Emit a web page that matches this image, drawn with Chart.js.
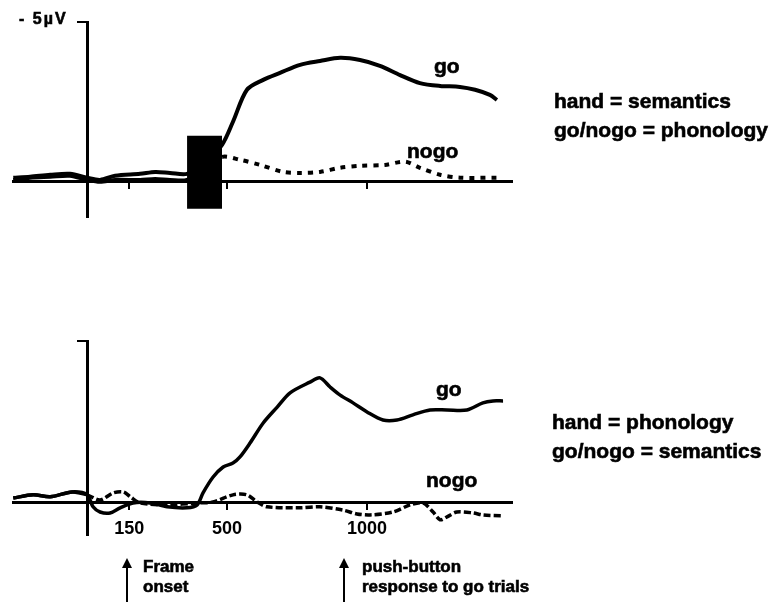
<!DOCTYPE html>
<html>
<head>
<meta charset="utf-8">
<script src="https://cdn.jsdelivr.net/npm/chart.js@4/dist/chart.umd.min.js"></script>
<style>
  body { margin: 0; background: #fff; width: 772px; height: 602px; position: relative; overflow: hidden;
         font-family: "Liberation Sans", Arial, sans-serif; font-weight: bold; color: #000; }
  canvas { position: absolute; left: 0; }
  .lbl { position: absolute; white-space: nowrap; -webkit-text-stroke: 0.6px #000; }
  .arrow { position: absolute; width: 2px; background: #000; }
  .arrow:before { content: ""; position: absolute; left: -4px; top: -8px;
                  border-left: 5px solid transparent; border-right: 5px solid transparent; border-bottom: 10px solid #000; }
</style>
</head>
<body>
<canvas id="topChart" width="772" height="300" style="top:0"></canvas>
<canvas id="bottomChart" width="772" height="302" style="top:300px"></canvas>

<div class="lbl" style="left:19px;top:10px;font-size:16px;letter-spacing:2px">- 5µV</div>
<div class="lbl" style="left:434px;top:54px;font-size:21px">go</div>
<div class="lbl" style="left:407px;top:139px;font-size:21px">nogo</div>
<div class="lbl" style="left:554px;top:86px;font-size:21px;line-height:29px">hand = semantics<br>go/nogo = phonology</div>

<div class="lbl" style="left:436px;top:377px;font-size:21px">go</div>
<div class="lbl" style="left:426px;top:468px;font-size:21px">nogo</div>
<div class="lbl" style="left:552px;top:407px;font-size:21px;line-height:29px">hand = phonology<br>go/nogo = semantics</div>

<div class="arrow" style="left:126px;top:566px;height:36px"></div>
<div class="lbl" style="left:143px;top:557px;font-size:17px;line-height:20px">Frame<br>onset</div>
<div class="arrow" style="left:343px;top:566px;height:36px"></div>
<div class="lbl" style="left:362px;top:557px;font-size:17px;line-height:20px">push-button<br>response to go trials</div>

<script>
"use strict";

// tid i ms, amplitud i µV (negativt uppåt)

// övre panelen: hand = semantik
const topGoTime = [-264, -204, -132, -61, 0, 46, 100, 189, 243, 296, 357, 420, 482, 521, 571, 629, 689, 761, 832, 904, 975, 1046, 1118, 1189, 1261, 1332, 1386, 1439, 1464];
const topGoVolt = [-0.13, -0.16, -0.22, -0.25, -0.13, -0.06, -0.19, -0.25, -0.31, -0.28, -0.25, -0.6, -1.16, -1.88, -2.88, -3.19, -3.41, -3.66, -3.78, -3.88, -3.81, -3.63, -3.34, -3.09, -3.0, -2.97, -2.88, -2.72, -2.56];

const topNogoTime = [-264, -204, -132, -61, 0, 46, 100, 189, 243, 296, 357, 420, 482, 546, 618, 700, 761, 832, 904, 975, 1064, 1136, 1189, 1261, 1332, 1464];
const topNogoVolt = [-0.06, -0.13, -0.16, -0.19, -0.06, 0, -0.06, -0.06, -0.09, -0.06, -0.06, -0.4, -0.78, -0.69, -0.53, -0.31, -0.28, -0.31, -0.44, -0.5, -0.53, -0.63, -0.44, -0.22, -0.13, -0.13];

// svart ruta över artefakten
const boxTime = [357, 482];
const boxTop = -1.44;
const boxBottom = 0.84;

// nedre panelen: hand = fonologi
const botGoTime = [-264, -193, -132, -54, 0, 21, 46, 82, 118, 164, 225, 286, 357, 393, 414, 450, 486, 521, 546, 582, 629, 679, 725, 796, 832, 868, 904, 950, 1000, 1057, 1107, 1164, 1225, 1286, 1357, 1414, 1450, 1486];
const botGoVolt = [-0.15, -0.25, -0.19, -0.34, -0.25, 0.12, 0.28, 0.31, 0.15, 0, 0, 0.12, 0.15, 0.06, -0.31, -0.8, -1.11, -1.23, -1.42, -1.85, -2.47, -2.96, -3.4, -3.73, -3.86, -3.58, -3.33, -3.09, -2.81, -2.56, -2.56, -2.72, -2.87, -2.87, -2.87, -3.09, -3.15, -3.15];

const botNogoTime = [-264, -193, -132, -54, 0, 46, 93, 129, 154, 189, 286, 393, 450, 521, 571, 607, 643, 761, 832, 914, 964, 1011, 1093, 1154, 1200, 1236, 1261, 1286, 1321, 1379, 1414, 1486];
const botNogoVolt = [-0.15, -0.25, -0.19, -0.34, -0.25, -0.09, -0.31, -0.34, -0.19, 0, 0.06, 0, -0.03, -0.25, -0.25, -0.03, 0.12, 0.15, 0.12, 0.22, 0.34, 0.37, 0.28, 0.06, 0, 0.28, 0.52, 0.43, 0.28, 0.31, 0.37, 0.40];

// axlar
const tickTimes = [150, 500, 1000];
const tickLabels = ["150", "500", "1000"];
const yTicks = [-5];

function toPoints(times, volts) {
    return times.map((t, i) => ({ x: t, y: volts[i] }));
}

// gör streckad linje efter en viss tidpunkt
function dashAfter(start, dash) {
    return ctx => ctx.p0.parsed.x >= start ? dash : undefined;
}

function lineSet(times, volts, width, dashStart, dash) {
    let ds = {
        data: toPoints(times, volts),
        borderColor: "#000",
        borderWidth: width,
        pointRadius: 0,
        tension: 0.3,
        fill: false,
        order: 1
    };
    if (dash) {
        ds.segment = { borderDash: dashAfter(dashStart, dash) };
    }
    return ds;
}

function createPanel(el, datasets, yMax, padding, showLabels) {
    new Chart(el, {
        type: "line",
        data: { datasets: datasets },
        options: {
            responsive: false,
            animation: false,
            events: [],
            layout: { padding: padding },
            plugins: { legend: { display: false }, tooltip: { enabled: false } },
            scales: {
                x: {
                    type: "linear",
                    min: -265,
                    max: 1518,
                    position: { y: 0 },
                    afterFit: s => { s.height = 0; },
                    afterBuildTicks: s => { s.ticks = tickTimes.map(v => ({ value: v })); },
                    border: { color: "#000", width: 3 },
                    grid: { drawOnChartArea: false, color: "#000", lineWidth: 2, tickLength: 6 },
                    ticks: {
                        autoSkip: false,
                        maxRotation: 0,
                        color: "#000",
                        padding: 9,
                        font: { family: "Liberation Sans", weight: "bold", size: 18 },
                        callback: (v, i) => showLabels ? tickLabels[i] : ""
                    }
                },
                y: {
                    type: "linear",
                    reverse: true,
                    min: -5,
                    max: yMax,
                    position: { x: 0 },
                    afterFit: s => { s.width = 0; },
                    afterBuildTicks: s => { s.ticks = yTicks.map(v => ({ value: v })); },
                    border: { color: "#000", width: 3 },
                    grid: { drawOnChartArea: false, color: "#000", lineWidth: 2, tickLength: 9 },
                    ticks: { callback: () => "" }
                }
            }
        }
    });
}

// övre diagrammet
createPanel(document.getElementById("topChart"), [
    {
        data: [{ x: boxTime[0], y: boxTop }, { x: boxTime[1], y: boxTop }],
        borderWidth: 0,
        borderColor: "#000",
        backgroundColor: "#000",
        pointRadius: 0,
        fill: { value: boxBottom },
        order: 0
    },
    lineSet(topGoTime, topGoVolt, 4),
    lineSet(topNogoTime, topNogoVolt, 4, 480, [5, 6])
], 1.1, { left: 13, right: 260, top: 22, bottom: 83 }, false);

// nedre diagrammet
createPanel(document.getElementById("bottomChart"), [
    lineSet(botGoTime, botGoVolt, 3.5),
    lineSet(botNogoTime, botNogoVolt, 3.5, 0, [7, 3])
], 0.99, { left: 13, right: 260, top: 41, bottom: 67 }, true);
</script>
</body>
</html>
